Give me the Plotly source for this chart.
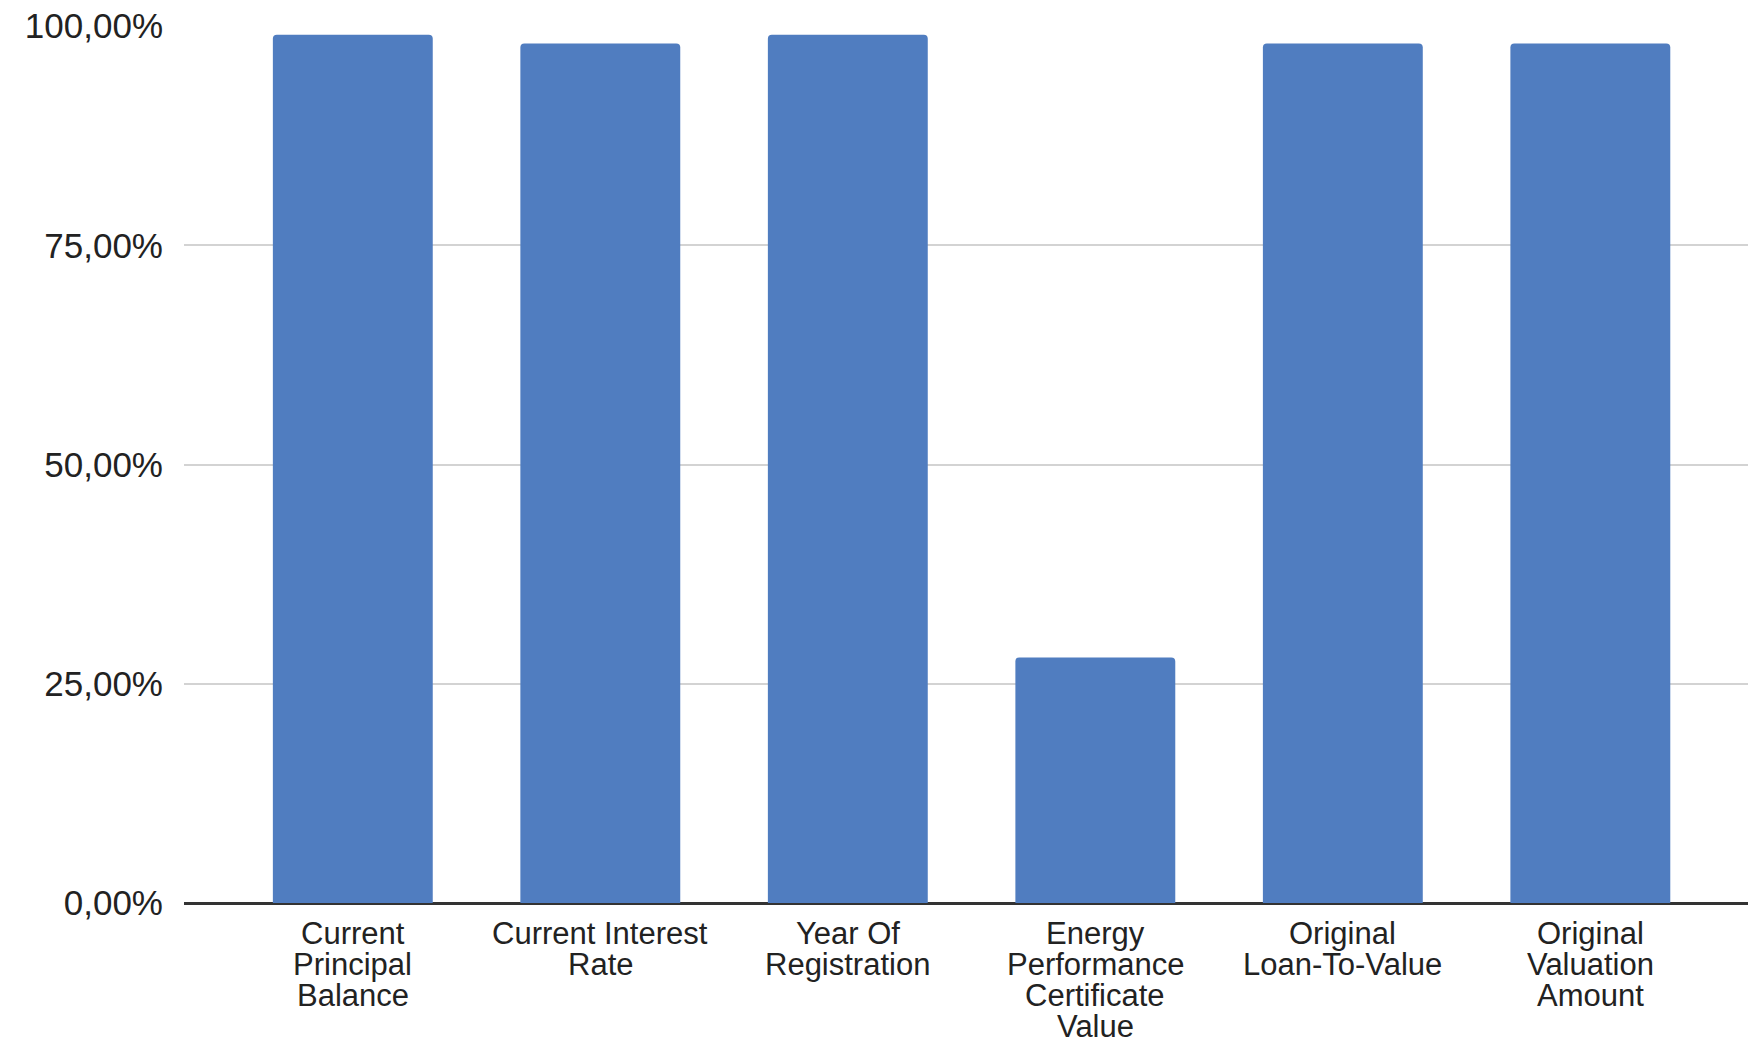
import plotly.graph_objects as go

categories = [
    "Current Principal Balance",
    "Current Interest Rate",
    "Year Of Registration",
    "Energy Performance Certificate Value",
    "Original Loan-To-Value",
    "Original Valuation Amount",
]
label_lines = [
    ["Current", "Principal", "Balance"],
    ["Current Interest", "Rate"],
    ["Year Of", "Registration"],
    ["Energy", "Performance", "Certificate", "Value"],
    ["Original", "Loan-To-Value"],
    ["Original", "Valuation", "Amount"],
]
values = [0.99, 0.98, 0.99, 0.28, 0.98, 0.98]
y_ticks = [0, 0.25, 0.5, 0.75, 1.0]

FONT = "Liberation Sans, Arial, sans-serif"
BAR_COLOR = "#507dc0"

fig = go.Figure(
    go.Bar(
        x=categories,
        y=values,
        marker=dict(color=BAR_COLOR, line=dict(width=0)),
        width=0.646,
    )
)

annotations = []
for cat, lines in zip(categories, label_lines):
    for i, line in enumerate(lines):
        annotations.append(
            dict(
                x=cat, y=0, xref="x", yref="y",
                text=line, showarrow=False,
                yanchor="top", xanchor="center",
                yshift=-11 - i * 31,
                font=dict(family=FONT, size=31, color="#222222"),
            )
        )

fig.update_layout(
    width=1748,
    height=1042,
    margin=dict(l=184, r=0, t=26, b=139),
    paper_bgcolor="white",
    plot_bgcolor="white",
    separators=", ",
    showlegend=False,
    barcornerradius=4,
    annotations=annotations,
    font=dict(family=FONT, color="#222222"),
)
fig.update_xaxes(
    type="category",
    range=[-0.682, 5.637],
    showticklabels=False,
    showgrid=False,
    showline=False,
    zeroline=False,
    ticks="",
)
fig.update_yaxes(
    range=[0, 1],
    tickvals=y_ticks,
    tickformat=".2%",
    tickfont=dict(family=FONT, size=35, color="#222222"),
    showgrid=True,
    gridcolor="#d3d3d3",
    gridwidth=2,
    zeroline=True,
    zerolinecolor="#333333",
    zerolinewidth=3,
    showline=False,
    ticks="",
    ticklabelstandoff=20,
)

fig.write_html("out.html")
